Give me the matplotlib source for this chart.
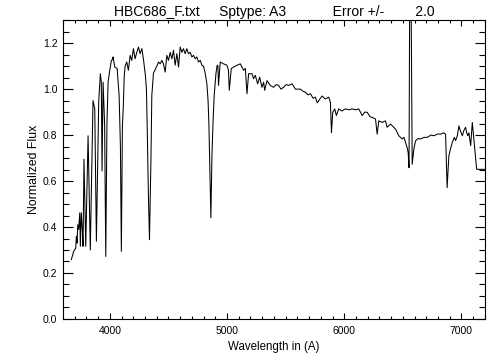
import matplotlib
matplotlib.use("Agg")
import matplotlib.pyplot as plt
from matplotlib.ticker import MultipleLocator

# spectrum (wavelength in A, normalized flux)
wave = [3671, 3691, 3709, 3714, 3720, 3726, 3734, 3743, 3748, 3756, 3765, 3771,
        3779, 3794, 3814, 3833, 3856, 3871, 3885, 3905, 3919, 3927, 3933, 3942,
        3955, 3965, 3975, 3985, 3999, 4013, 4024, 4027, 4042, 4062, 4079, 4090,
        4098, 4107, 4115, 4122, 4130, 4144, 4158, 4173, 4187, 4201, 4215, 4230,
        4244, 4258, 4273, 4286, 4303, 4312, 4320, 4329, 4338, 4350, 4358, 4372,
        4401, 4415, 4429, 4444, 4457, 4472, 4486, 4500, 4515, 4529, 4543, 4557,
        4572, 4586, 4600, 4615, 4628, 4643, 4657, 4671, 4685, 4700, 4714, 4728,
        4742, 4756, 4771, 4785, 4799, 4814, 4828, 4838, 4845, 4852, 4862, 4871,
        4880, 4890, 4905, 4916, 4922, 4927, 4942, 4970, 4999, 5012, 5019, 5036,
        5070, 5113, 5141, 5156, 5170, 5184, 5213, 5226, 5241, 5261, 5278, 5298,
        5312, 5321, 5341, 5369, 5397, 5420, 5440, 5460, 5483, 5505, 5526, 5555,
        5583, 5605, 5626, 5650, 5668, 5690, 5711, 5735, 5754, 5770, 5782, 5811,
        5839, 5868, 5882, 5891, 5902, 5919, 5933, 5953, 5980, 6010, 6040, 6068,
        6095, 6124, 6153, 6175, 6196, 6220, 6238, 6267, 6281, 6295, 6324, 6352,
        6366, 6395, 6420, 6438, 6466, 6495, 6510, 6523, 6540, 6546, 6553, 6560,
        6568, 6580, 6594, 6609, 6630, 6651, 6680, 6708, 6740, 6765, 6800, 6822,
        6850, 6865, 6878, 6893, 6907, 6922, 6940, 6950, 6965, 6979, 6990, 7008,
        7021, 7036, 7045, 7055, 7064, 7079, 7093, 7130, 7200]
flux = [0.258, 0.294, 0.309, 0.360, 0.330, 0.410, 0.390, 0.462, 0.316, 0.462, 0.389, 0.316,
        0.695, 0.316, 0.797, 0.300, 0.950, 0.914, 0.338, 0.950, 1.067, 1.030, 0.644, 1.030,
        0.850, 0.272, 0.850, 1.030, 1.082, 1.125, 1.130, 1.140, 1.096, 1.090, 0.972, 0.750,
        0.294, 0.840, 0.928, 1.050, 1.100, 1.118, 1.082, 1.147, 1.125, 1.176, 1.132, 1.160,
        1.183, 1.154, 1.176, 1.132, 1.060, 1.000, 0.800, 0.535, 0.345, 0.680, 0.972, 1.070,
        1.100, 1.118, 1.110, 1.125, 1.110, 1.074, 1.147, 1.125, 1.160, 1.132, 1.169, 1.104,
        1.154, 1.096, 1.183, 1.160, 1.176, 1.154, 1.176, 1.154, 1.160, 1.140, 1.147, 1.132,
        1.140, 1.118, 1.125, 1.104, 1.100, 1.067, 1.023, 0.950, 0.850, 0.680, 0.440, 0.710,
        0.850, 0.970, 1.067, 1.104, 1.100, 1.016, 1.118, 1.110, 1.104, 1.082, 0.995, 1.090,
        1.100, 1.110, 1.082, 1.090, 0.980, 1.067, 1.067, 1.045, 1.060, 1.023, 1.052, 1.008,
        1.030, 0.995, 1.037, 1.016, 1.008, 1.020, 1.016, 1.000, 1.008, 1.020, 1.016, 1.023,
        1.000, 1.000, 1.000, 0.990, 0.987, 0.975, 0.980, 0.960, 0.965, 0.940, 0.950, 0.970,
        0.957, 0.965, 0.943, 0.810, 0.899, 0.914, 0.885, 0.914, 0.905, 0.914, 0.910, 0.914,
        0.910, 0.914, 0.885, 0.900, 0.899, 0.880, 0.877, 0.870, 0.804, 0.862, 0.855, 0.862,
        0.834, 0.848, 0.835, 0.826, 0.797, 0.783, 0.790, 0.768, 0.740, 0.720, 0.658, 1.600,
        1.600, 0.673, 0.739, 0.775, 0.785, 0.783, 0.790, 0.790, 0.800, 0.797, 0.805, 0.804,
        0.810, 0.804, 0.571, 0.710, 0.740, 0.768, 0.790, 0.776, 0.797, 0.840, 0.820, 0.797,
        0.820, 0.834, 0.810, 0.797, 0.810, 0.754, 0.855, 0.651, 0.651]

TITLE = "HBC686_F.txt     Sptype: A3            Error +/-        2.0"

plt.rcParams['font.family'] = ['Liberation Sans', 'DejaVu Sans']

fig = plt.figure(figsize=(5.04, 3.6), dpi=100)
ax = fig.add_axes([0.125, 0.114, 0.837, 0.830])

ax.plot(wave, flux, color='black', lw=0.75)

ax.set_xlim(3600, 7200)
ax.set_ylim(0.0, 1.3)
ax.xaxis.set_major_locator(MultipleLocator(1000))
ax.xaxis.set_minor_locator(MultipleLocator(100))
ax.yaxis.set_major_locator(MultipleLocator(0.2))
ax.yaxis.set_minor_locator(MultipleLocator(0.05))
ax.yaxis.set_major_formatter(lambda v, pos: f"{v:.1f}")

ax.tick_params(axis='both', which='both', direction='in', top=True, right=True,
               width=0.8, labelsize=7.5, colors='black')
ax.tick_params(axis='x', which='major', length=4.3, pad=5)
ax.tick_params(axis='x', which='minor', length=2.2)
ax.tick_params(axis='y', which='major', length=7.2, pad=4)
ax.tick_params(axis='y', which='minor', length=4.0)
for sp in ax.spines.values():
    sp.set_linewidth(0.8)

ax.set_xlabel("Wavelength in (A)", fontsize=8.3, labelpad=4)
ax.set_ylabel("Normalized Flux", fontsize=8.8, labelpad=2)
ax.set_title(TITLE, fontsize=10, pad=3)

fig.savefig("out.png", dpi=100)
